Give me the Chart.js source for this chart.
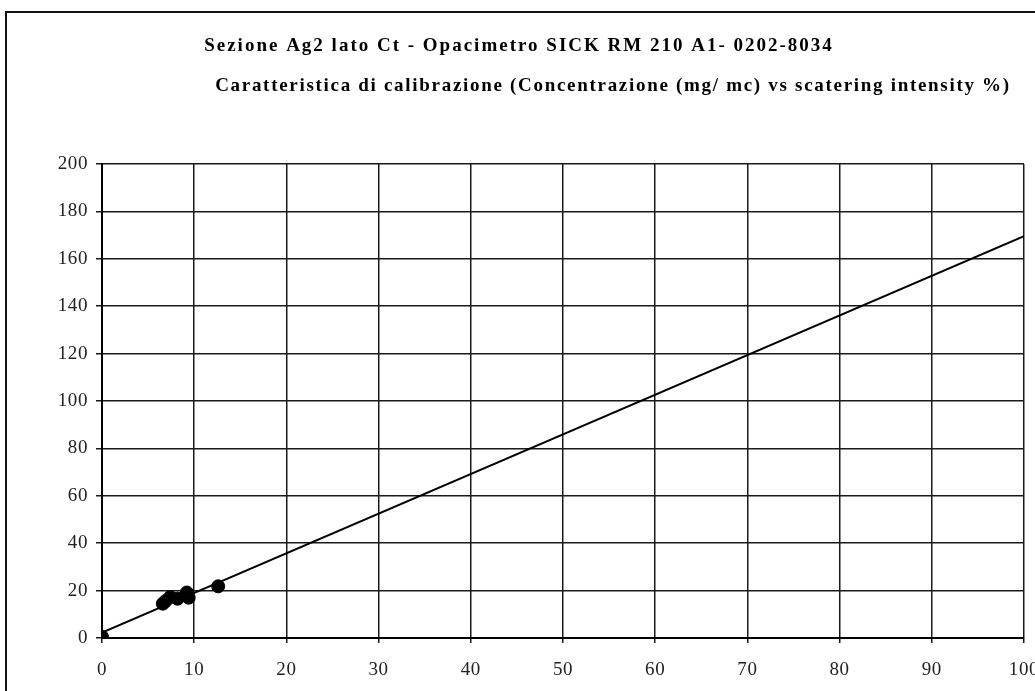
<!DOCTYPE html>
<html>
<head>
<meta charset="utf-8">
<title>Sezione Ag2 lato Ct - Opacimetro SICK RM 210 A1- 0202-8034</title>
<script src="https://cdn.jsdelivr.net/npm/chart.js@4/dist/chart.umd.min.js"></script>
<style>
  html, body { margin: 0; padding: 0; background: #fff; }
  #wrap { position: relative; width: 1035px; height: 691px; }
  canvas { display: block; }
</style>
</head>
<body>
<div id="wrap"><canvas id="chart" width="1035" height="691"></canvas></div>
<script>
// Calibration measurements: scattering intensity (%) vs concentration (mg/mc)
const intensity = [0, 6.6, 6.9, 7.4, 8.2, 9.2, 9.4, 12.6];
const concentration = [0.5, 14.5, 15.6, 17.3, 16.6, 19.2, 17.0, 21.8];

// Calibration line end points
const fitX = [0, 100];
const fitY = [2.3, 169.6];

// Axis ticks
const xTicks = [0, 10, 20, 30, 40, 50, 60, 70, 80, 90, 100];
const yTicks = [0, 20, 40, 60, 80, 100, 120, 140, 160, 180, 200];

const titleLines = [
  { text: 'Sezione Ag2 lato Ct - Opacimetro SICK RM 210 A1- 0202-8034', x: 519, y: 46, spacing: '2px' },
  { text: 'Caratteristica di calibrazione (Concentrazione (mg/ mc) vs scatering intensity %)', x: 613, y: 86, spacing: '1.7px' }
];

const pointsData = intensity.map((x, i) => ({ x: x, y: concentration[i] }));
const lineData = fitX.map((x, i) => ({ x: x, y: fitY[i] }));

const spacing = {
  id: 'spacing',
  beforeUpdate(chart) { chart.ctx.letterSpacing = '0.6px'; },
  beforeDraw(chart) { chart.ctx.letterSpacing = '0.6px'; }
};

const frame = {
  id: 'frame',
  beforeDraw(chart) {
    const ctx = chart.ctx;
    ctx.save();
    ctx.fillStyle = '#fff';
    ctx.fillRect(0, 0, chart.width, chart.height);
    ctx.strokeStyle = '#111';
    ctx.lineWidth = 2;
    ctx.strokeRect(6, 12, chart.width + 20, chart.height + 20);
    ctx.restore();
  },
  afterDraw(chart) {
    const ctx = chart.ctx;
    ctx.save();
    ctx.fillStyle = '#000';
    ctx.font = 'bold 19px "Liberation Serif", "Times New Roman", serif';
    ctx.textAlign = 'center';
    ctx.textBaseline = 'middle';
    titleLines.forEach(t => {
      ctx.letterSpacing = t.spacing;
      ctx.fillText(t.text, t.x, t.y);
    });
    ctx.restore();
  }
};

const tickFont = { family: '"Liberation Serif", "Times New Roman", serif', size: 19 };

new Chart(document.getElementById('chart'), {
  type: 'scatter',
  data: {
    datasets: [
      {
        label: 'Calibrazione',
        data: lineData,
        showLine: true,
        borderColor: '#000',
        borderWidth: 2,
        pointRadius: 0,
        fill: false,
        order: 2
      },
      {
        label: 'Misure',
        data: pointsData,
        backgroundColor: '#000',
        borderColor: '#000',
        pointRadius: 6.5,
        pointHoverRadius: 6.5,
        order: 1
      }
    ]
  },
  options: {
    responsive: false,
    animation: false,
    devicePixelRatio: 1,
    layout: { padding: { left: 0, top: 164, right: 11, bottom: 0 } },
    plugins: {
      legend: { display: false },
      tooltip: { enabled: false },
      title: { display: false }
    },
    scales: {
      x: {
        type: 'linear',
        min: xTicks[0],
        max: xTicks[xTicks.length - 1],
        afterBuildTicks(scale) { scale.ticks = xTicks.map(v => ({ value: v })); },
        afterFit(scale) { scale.height = 53; scale.paddingLeft = 0; scale.paddingRight = 0; },
        ticks: { color: '#222', font: tickFont, padding: 16, maxRotation: 0, autoSkip: false },
        grid: { color: '#1a1a1a', lineWidth: 1.5, tickLength: 5, tickColor: '#1a1a1a' },
        border: { color: '#000', width: 2 }
      },
      y: {
        type: 'linear',
        min: yTicks[0],
        max: yTicks[yTicks.length - 1],
        afterBuildTicks(scale) { scale.ticks = yTicks.map(v => ({ value: v })); },
        afterFit(scale) { scale.width = 102; scale.paddingTop = 0; scale.paddingBottom = 0; },
        ticks: { color: '#222', font: tickFont, padding: 8, autoSkip: false },
        grid: { color: '#1a1a1a', lineWidth: 1.5, tickLength: 6, tickColor: '#1a1a1a' },
        border: { color: '#000', width: 2 }
      }
    }
  },
  plugins: [spacing, frame]
});
</script>
</body>
</html>
